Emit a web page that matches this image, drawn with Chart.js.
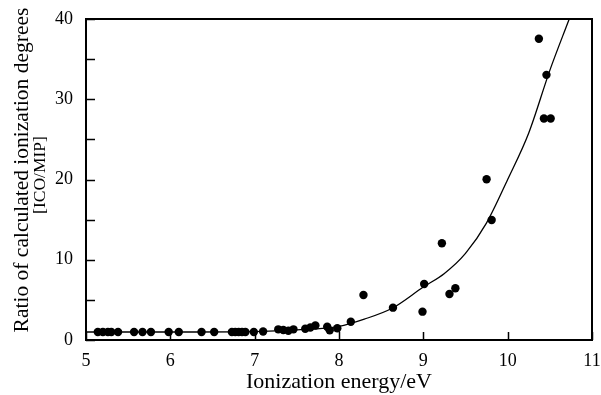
<!DOCTYPE html>
<html>
<head>
<meta charset="utf-8">
<script src="https://cdn.jsdelivr.net/npm/chart.js@4.4.1/dist/chart.umd.min.js"></script>
<style>
  html, body { margin: 0; padding: 0; background: #fff; }
  #wrap { width: 601px; height: 395px; }
</style>
</head>
<body>
<div id="wrap"><canvas id="c" width="601" height="395"></canvas></div>
<script>
// Measured points: ionization energy (eV) vs ratio ICO/MIP
const energy = [5.14, 5.20, 5.26, 5.30, 5.38, 5.57, 5.67, 5.77, 5.98, 6.10,
                6.37, 6.52, 6.73, 6.77, 6.81, 6.85, 6.89, 6.99, 7.10,
                7.28, 7.34, 7.40, 7.46, 7.60, 7.66, 7.72, 7.86, 7.89, 7.98,
                8.14, 8.29, 8.64, 8.99, 9.01, 9.22, 9.31, 9.38, 9.75, 9.81,
                10.37, 10.43, 10.46, 10.51];
const ratio  = [1.0, 1.0, 1.0, 1.0, 1.0, 1.0, 1.0, 1.0, 1.0, 1.0,
                1.0, 1.0, 1.0, 1.0, 1.0, 1.0, 1.0, 1.0, 1.05,
                1.33, 1.25, 1.16, 1.33, 1.4, 1.55, 1.8, 1.66, 1.2, 1.46,
                2.28, 5.61, 4.03, 3.53, 6.98, 12.06, 5.74, 6.45, 20.04, 14.96,
                37.53, 27.6, 33.04, 27.6];

// Fitted curve
const fitEnergy = [5.0, 6.0, 7.0, 7.5, 8.0, 8.3, 8.63, 9.0, 9.25, 9.5, 9.75, 10.0, 10.25, 10.5, 10.73];
const fitRatio  = [1.0, 1.0, 1.05, 1.25, 1.7, 2.6, 3.95, 6.6, 8.3, 10.8, 14.6, 20.0, 25.8, 33.6, 40.0];

const xTicks = [5, 6, 7, 8, 9, 10, 11];
const yTicks = [0, 10, 20, 30, 40];

const xTitle = 'Ionization energy/eV';
const yTitle1 = 'Ratio of calculated ionization degrees';
const yTitle2 = '[ICO/MIP]';

const FONT = 'Liberation Serif, Times New Roman, serif';

const pts = energy.map((e, i) => ({ x: e, y: ratio[i] }));
const fit = fitEnergy.map((e, i) => ({ x: e, y: fitRatio[i] }));

const frame = {
  id: 'frame',
  afterLayout(chart) {
    // shift the rotated y titles slightly upward, as in the original
    chart.scales.yT1.bottom -= 19;
    chart.scales.yT2.bottom -= 9;
  },
  afterDatasetsDraw(chart) {
    const { ctx, chartArea: { left, right, top, bottom }, scales: { x, y } } = chart;
    ctx.save();
    ctx.strokeStyle = '#000';
    ctx.lineWidth = 2;
    ctx.strokeRect(left, top, right - left, bottom - top);
    ctx.lineWidth = 1.5;
    ctx.beginPath();
    y.ticks.forEach(t => {
      const py = Math.round(y.getPixelForValue(t.value)) + 0.5;
      ctx.moveTo(left, py); ctx.lineTo(left + 9, py);
    });
    x.ticks.forEach(t => {
      const px = Math.round(x.getPixelForValue(t.value)) + 0.5;
      ctx.moveTo(px, bottom); ctx.lineTo(px, bottom - 8);
    });
    ctx.stroke();
    ctx.restore();
  }
};

new Chart(document.getElementById('c'), {
  type: 'scatter',
  data: {
    datasets: [
      {
        data: pts,
        backgroundColor: '#000',
        borderColor: '#000',
        borderWidth: 0,
        pointRadius: 4.2,
        pointHoverRadius: 4.2,
        order: 1
      },
      {
        type: 'line',
        data: fit,
        showLine: true,
        borderColor: '#000',
        borderWidth: 1.3,
        pointRadius: 0,
        fill: false,
        cubicInterpolationMode: 'monotone',
        order: 0
      }
    ]
  },
  options: {
    responsive: false,
    animation: false,
    devicePixelRatio: 1,
    layout: { padding: { top: 19, right: 9, left: 0, bottom: 0 } },
    plugins: { legend: { display: false }, tooltip: { enabled: false } },
    scales: {
      x: {
        type: 'linear',
        position: 'bottom',
        min: xTicks[0],
        max: xTicks[xTicks.length - 1],
        grid: { display: false, drawTicks: false },
        border: { display: false },
        ticks: {
          stepSize: 1,
          padding: 10,
          color: '#000',
          font: { family: FONT, size: 18 },
          callback: v => xTicks.includes(v) ? String(v) : ''
        },
        title: {
          display: true,
          text: xTitle,
          color: '#000',
          font: { family: FONT, size: 22 },
          padding: { top: 0, bottom: 0 }
        },
        afterFit: s => { s.height = 55; s.paddingLeft = 0; s.paddingRight = 0; }
      },
      y: {
        type: 'linear',
        position: 'left',
        weight: 0,
        min: yTicks[0],
        max: yTicks[yTicks.length - 1],
        grid: { display: false, drawTicks: false },
        border: { display: false },
        ticks: {
          stepSize: 5,
          padding: 13,
          color: '#000',
          font: { family: FONT, size: 18 },
          callback: v => yTicks.includes(v) ? String(v) : ''
        },
        afterFit: s => { s.width = 40; s.paddingTop = 0; s.paddingBottom = 0; }
      },
      yT2: {
        type: 'linear',
        position: 'left',
        weight: 1,
        grid: { display: false, drawTicks: false },
        border: { display: false },
        ticks: { display: false },
        title: {
          display: true,
          text: yTitle2,
          color: '#000',
          font: { family: FONT, size: 17.5 },
          padding: { top: 4, bottom: 0 }
        },
        afterFit: s => { s.width = 20; s.paddingTop = 0; s.paddingBottom = 0; }
      },
      yT1: {
        type: 'linear',
        position: 'left',
        weight: 2,
        grid: { display: false, drawTicks: false },
        border: { display: false },
        ticks: { display: false },
        title: {
          display: true,
          text: yTitle1,
          color: '#000',
          font: { family: FONT, size: 21.5 },
          padding: { top: 9, bottom: 0 }
        },
        afterFit: s => { s.width = 26; s.paddingTop = 0; s.paddingBottom = 0; }
      }
    }
  },
  plugins: [frame]
});
</script>
</body>
</html>
